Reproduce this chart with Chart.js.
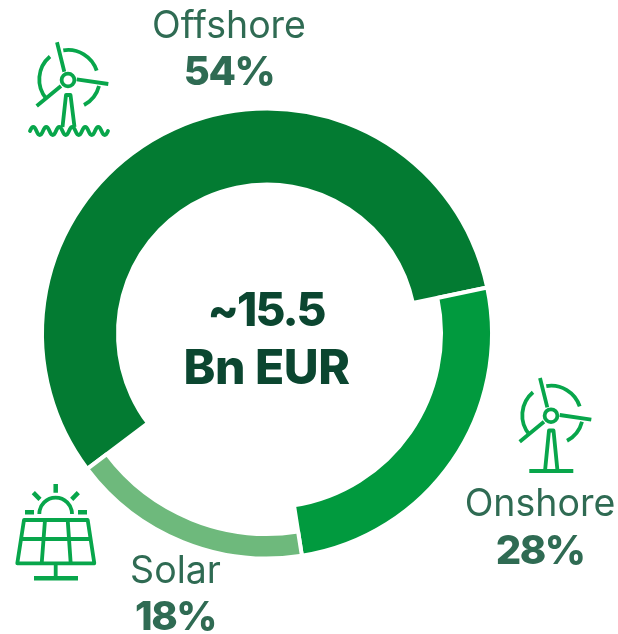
<!DOCTYPE html>
<html>
<head>
<meta charset="utf-8">
<style>
html,body{margin:0;padding:0;background:#fff;width:618px;height:634px;overflow:hidden}
#wrap{position:relative;width:618px;height:634px}
canvas{position:absolute;left:0;top:0}
svg{position:absolute;left:0;top:0;pointer-events:none}
</style>
<script src="https://cdn.jsdelivr.net/npm/chart.js@4"></script>
</head>
<body>
<div id="wrap">
<canvas id="c" width="618" height="634"></canvas>
<svg width="618" height="634" viewBox="0 0 618 634" fill="none" stroke="#08A64B" stroke-width="3.8">
  <defs>
    <g id="rotor">
      <circle cx="68" cy="80" r="6.4"/>
      <path d="M57 42.3L64.3 71.7M76.7 79.3L108.3 84M61 86L36.7 106"/>
      <path d="M63.3 50.4A30 30 0 0 1 96.7 70.7M50 56.5A30 30 0 0 0 46.5 99M99 86A30 30 0 0 1 84 105"/>
    </g>
  </defs>
  <use href="#rotor"/>
  <path stroke-linejoin="round" d="M62.5 127L66 95L70.5 95L74.5 127"/>
  <path stroke-linecap="round" d="M30 131q3.25 -8 6.5 0t6.5 0t6.5 0t6.5 0t6.5 0t6.5 0t6.5 0t6.5 0t6.5 0t6.5 0t6.5 0t6.5 0"/>
  <use href="#rotor" x="483" y="335.7"/>
  <path stroke-linejoin="round" d="M545 471L549 430.5L553.5 430.5L557.5 471"/>
  <path d="M529.3 471H573.3"/>
  <path d="M39.3 514A16.3 16.3 0 0 1 72 514"/>
  <path stroke-width="4.5" d="M55.7 484V492.7M33.3 492.7L40 499.3M78.3 492.7L71.7 499.3M25 512.3H34M78 512.3H87"/>
  <path stroke-linejoin="round" d="M24 520H87.7L94.3 563.3H17.3Z"/>
  <path d="M45 520L41.7 563.3M67.7 520L70.7 563.3M21.3 539H90M55.7 565V577"/>
  <path stroke-width="4.5" d="M34 578.3H78"/>
</svg>
</div>
<script>
// Labelled shares as printed in the picture
const categories = ['Offshore', 'Onshore', 'Solar'];
const shareLabels = ['54%', '28%', '18%'];
// Arc spans (the drawn arcs differ a little from the printed shares)
const arcShares = [57.0, 25.8, 17.2];
const centerLines = ['~15.5', 'Bn EUR'];

const sliceColors = ['#037B32', '#019A3E', '#6EB97C'];
const ringInner = [149, 174, 200.5];
const outerR = 225;
const labelPos = [
  {x: 229, y1: 38, y2: 85},
  {x: 540, y1: 516, y2: 564},
  {x: 175.5, y1: 583, y2: 630}
];
const FONT = 'Inter, "Open Sans", sans-serif';

const steppedRing = {
  id: 'steppedRing',
  afterDatasetUpdate(chart) {
    chart.getDatasetMeta(0).data.forEach((arc, i) => { arc.innerRadius = ringInner[i]; });
  }
};
const textPlugin = {
  id: 'textPlugin',
  afterDraw(chart) {
    const ctx = chart.ctx;
    ctx.save();
    ctx.textAlign = 'center';
    ctx.textBaseline = 'alphabetic';
    categories.forEach((name, i) => {
      const p = labelPos[i];
      ctx.fillStyle = '#2F6B53';
      ctx.letterSpacing = '0px';
      ctx.font = '400 37.5px ' + FONT;
      ctx.fillText(name, p.x, p.y1);
      ctx.letterSpacing = '-1.5px';
      ctx.font = '800 40px ' + FONT;
      ctx.fillText(shareLabels[i], p.x, p.y2);
    });
    ctx.fillStyle = '#0B4630';
    ctx.letterSpacing = '-2px';
    ctx.font = '800 46px ' + FONT;
    ctx.fillText(centerLines[0], 266, 326);
    ctx.letterSpacing = '-0.5px';
    ctx.font = '800 48px ' + FONT;
    ctx.fillText(centerLines[1], 266.5, 384);
    ctx.restore();
  }
};

new Chart(document.getElementById('c'), {
  type: 'doughnut',
  data: {
    labels: categories,
    datasets: [{
      data: arcShares,
      backgroundColor: sliceColors,
      borderColor: '#ffffff',
      borderWidth: 4,
      hoverOffset: 0
    }]
  },
  options: {
    responsive: false,
    animation: false,
    rotation: 233,
    radius: outerR,
    cutout: 149,
    layout: {padding: {left: 0, right: 84, top: 33, bottom: 0}},
    plugins: {legend: {display: false}, tooltip: {enabled: false}}
  },
  plugins: [steppedRing, textPlugin]
});
</script>
</body>
</html>
